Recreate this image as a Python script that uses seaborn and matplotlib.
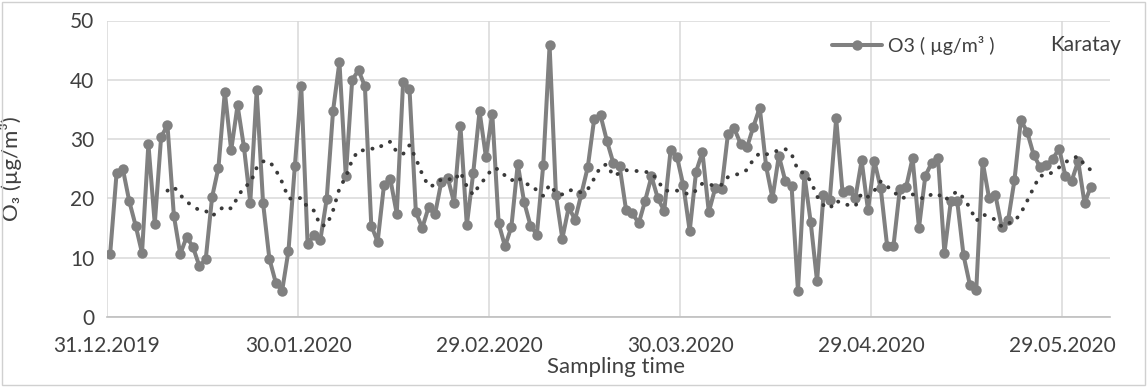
import numpy as np
import pandas as pd
import matplotlib
matplotlib.use("Agg")
import matplotlib.pyplot as plt
from matplotlib.patches import Rectangle
import seaborn as sns

# ---------------- data ----------------
start_date = "2019-12-31 12:00"
o3_values = [
    10.7, 24.2, 24.9, 19.5, 15.4, 10.8, 29.2, 15.7, 30.4, 32.3,
    17.1, 10.6, 13.5, 11.8, 8.6, 9.7, 20.2, 25.2, 38.0, 28.1,
    35.7, 28.7, 19.3, 38.2, 19.3, 9.8, 5.8, 4.4, 11.2, 25.5,
    39.0, 12.3, 13.8, 13.0, 19.9, 34.8, 43.0, 23.7, 40.0, 41.6,
    38.9, 15.4, 12.7, 22.3, 23.2, 17.4, 39.7, 38.5, 17.7, 15.0,
    18.5, 17.3, 22.8, 23.5, 19.3, 32.2, 15.5, 24.2, 34.7, 27.0,
    34.3, 15.8, 11.9, 15.2, 25.8, 19.4, 15.4, 13.9, 25.6, 45.8,
    20.5, 13.2, 18.5, 16.4, 20.8, 25.3, 33.4, 34.0, 29.7, 26.0,
    25.4, 18.1, 17.5, 15.8, 19.6, 23.7, 20.0, 17.9, 28.1, 27.0,
    22.2, 14.5, 24.5, 27.8, 17.7, 21.7, 21.6, 30.8, 31.8, 29.2,
    28.6, 32.1, 35.3, 25.4, 20.0, 27.2, 23.0, 22.1, 4.4, 24.0,
    16.0, 6.0, 20.5, 19.8, 33.5, 21.0, 21.5, 20.0, 26.4, 18.0,
    26.3, 21.7, 12.0, 12.0, 21.6, 22.0, 26.8, 15.0, 23.8, 26.0,
    26.8, 10.8, 19.5, 19.6, 10.4, 5.4, 4.6, 26.2, 20.1, 20.6,
    15.2, 16.3, 23.1, 33.2, 31.2, 27.4, 25.3, 25.6, 26.6, 28.4,
    23.8, 23.0, 26.3, 19.2, 22.0,
]
ma_window = 10
tick_dates = ["2019-12-31", "2020-01-30", "2020-02-29",
              "2020-03-30", "2020-04-29", "2020-05-29"]
tick_labels = ["31.12.2019", "30.01.2020", "29.02.2020",
               "30.03.2020", "29.04.2020", "29.05.2020"]
y_ticks = [0, 10, 20, 30, 40, 50]
series_label = "O3 ( µg/m³ )"
station = "Karatay"

# ---------------- style ----------------
sns.set_theme(style="white")
plt.rcParams["font.family"] = ["Lato", "DejaVu Sans"]

dates = pd.date_range(start_date, periods=len(o3_values), freq="D")
df = pd.DataFrame({"date": dates, "O3": o3_values})
df["ma"] = df["O3"].rolling(ma_window).mean()

fig = plt.figure(figsize=(11.47, 3.87), dpi=100)
ax = fig.add_axes([107 / 1147, 1 - 317 / 387, 1003 / 1147, 296.5 / 387])

sns.lineplot(data=df, x="date", y="O3", ax=ax, color="#808080", lw=2.9,
             marker="o", markersize=7.5, markeredgewidth=0,
             label=series_label, zorder=3)
sns.lineplot(data=df, x="date", y="ma", ax=ax, color="#3a3a3a", lw=2.8,
             linestyle=(0, (0.05, 2.5)), dash_capstyle="round",
             legend=False, zorder=4)

x0 = pd.Timestamp(tick_dates[0])
ax.set_xlim(x0, x0 + pd.Timedelta(days=157.5))
ax.set_ylim(y_ticks[0], y_ticks[-1])
ax.set_yticks(y_ticks)
ax.set_xticks(pd.to_datetime(tick_dates))
ax.set_xticklabels(tick_labels)

ax.grid(True, color="#d9d9d9", lw=1.1)
ax.set_axisbelow(True)
for s in ["top", "right", "left"]:
    ax.spines[s].set_visible(False)
ax.spines["bottom"].set_color("#bfbfbf")
ax.spines["bottom"].set_linewidth(1.2)

ax.tick_params(axis="x", length=0, pad=14, labelsize=15, colors="#404040")
ax.tick_params(axis="y", length=0, pad=9, labelsize=15, colors="#404040")

ax.set_xlabel("Sampling time", fontsize=16, color="#404040")
ax.xaxis.set_label_coords(0.507, -0.135)
ax.set_ylabel("O₃ (µg/m³)", fontsize=16, color="#404040")
ax.yaxis.set_label_coords(-0.085, 0.5)

leg = ax.legend(loc="center left", bbox_to_anchor=(0.715, 0.917), frameon=False,
                fontsize=14, handlelength=2.6, handletextpad=0.3,
                borderaxespad=0)
for t in leg.get_texts():
    t.set_color("#404040")

ax.text(0.94, 0.917, station, transform=ax.transAxes, ha="left", va="center",
        fontsize=15, color="#404040")

fig.patches.append(Rectangle((0.002, 0.004), 0.996, 0.992, transform=fig.transFigure,
                             fill=False, edgecolor="#d0d0d0", lw=1))

fig.savefig("out.png", dpi=100)
